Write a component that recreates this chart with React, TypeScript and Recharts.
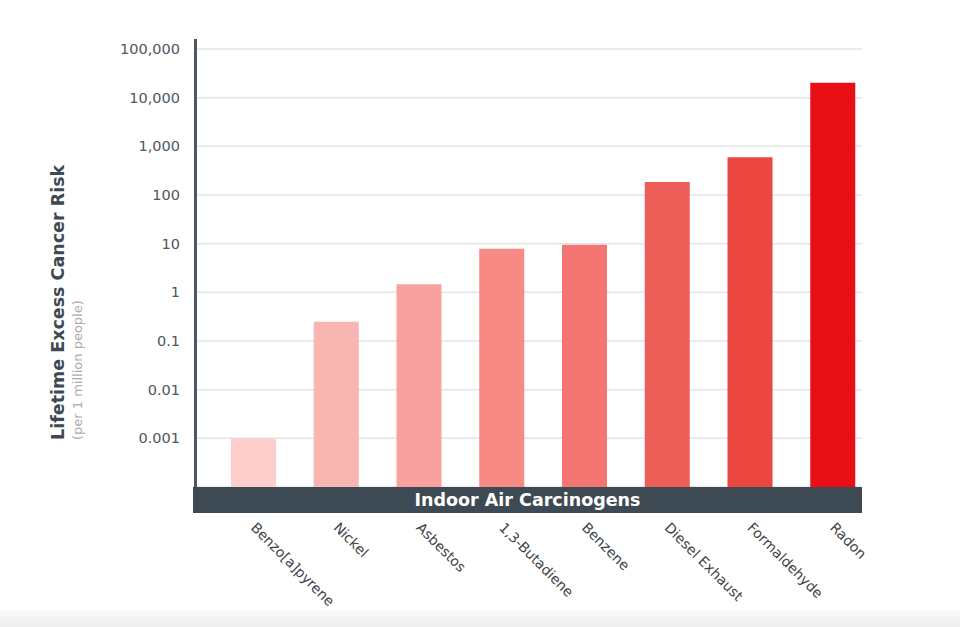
import React from 'react';
import { BarChart, Bar, XAxis, YAxis, CartesianGrid, Cell } from 'recharts';

const categories = ['Benzo[a]pyrene', 'Nickel', 'Asbestos', '1,3-Butadiene', 'Benzene', 'Diesel Exhaust', 'Formaldehyde', 'Radon'];
const riskPerMillion = [0.001, 0.25, 1.46, 7.9, 9.5, 185, 600, 20300];
const yTicks = [0.001, 0.01, 0.1, 1, 10, 100, 1000, 10000, 100000];
const COLORS = ['#FCCFCC', '#F9B5B2', '#F9A19F', '#F88A86', '#F47672', '#EE5E59', '#EC4641', '#E81016'];

const data = categories.map((name, i) => ({ name, value: riskPerMillion[i] }));

const FONT = '"DejaVu Sans", "Noto Sans", sans-serif';
const DARK = '#3E4A53';

const formatTick = (v: number) => v.toLocaleString('en-US', { maximumFractionDigits: 3 });

// vertical axis bar + rotated titles, drawn from the y axis box
const renderYDecor = (props: any) => {
    const { x, y, width, height } = props.viewBox;
    const right = x + width - 0.5;
    return (
        <g>
            <line x1={right} x2={right} y1={y - 10} y2={y + height + 26} stroke="#4D565E" strokeWidth={3} />
            <text x={58} y={440} transform="rotate(-90, 58, 440)" textAnchor="start" dominantBaseline="central"
                fontFamily={FONT} fontWeight="bold" fontSize={17.5} fill={DARK}>
                Lifetime Excess Cancer Risk
            </text>
            <text x={77} y={440} transform="rotate(-90, 77, 440)" textAnchor="start" dominantBaseline="central"
                fontFamily={FONT} fontSize={13} fill="#ABABAB">
                (per 1 million people)
            </text>
        </g>
    );
};

// dark band under the bars holding the x axis title
const renderXBand = (props: any) => {
    const { x, y, width } = props.viewBox;
    const left = x - 3;
    const right = x + width - 12;
    return (
        <g>
            <rect x={left} y={y} width={right - left} height={26} fill={DARK} />
            <text x={(left + right) / 2} y={y + 13} textAnchor="middle" dominantBaseline="central"
                fontFamily={FONT} fontWeight="bold" fontSize={17.5} fill="#FFFFFF">
                Indoor Air Carcinogens
            </text>
        </g>
    );
};

const XTick = ({ x, y, payload }: any) => (
    <text x={x} y={y} transform={`rotate(45, ${x}, ${y})`} textAnchor="start" dy="0.35em"
        fontFamily={FONT} fontSize={14} fill="#3F4449">
        {payload.value}
    </text>
);

const GridLine = (props: any) => (
    <line key={props.key} x1={props.x1} x2={props.x2 - 12} y1={props.y1} y2={props.y2} stroke="#E4E4E8" strokeWidth={1.5} />
);

export default function App() {
    return (
        <div style={{ position: 'absolute', left: 0, top: 0, width: 960, height: 627, background: '#FFFFFF', overflow: 'hidden' }}>
            <BarChart width={960} height={627} data={data} margin={{ top: 49, right: 86, bottom: 0, left: 0 }} barSize={45}>
                <CartesianGrid vertical={false} horizontal={GridLine} />
                <YAxis
                    type="number"
                    scale="log"
                    domain={[0.0001, 100000]}
                    ticks={yTicks}
                    tickFormatter={formatTick}
                    width={196}
                    axisLine={false}
                    tickLine={false}
                    tickMargin={10}
                    tick={{ fill: '#50565C', fontSize: 14.5, fontFamily: FONT }}
                    label={renderYDecor}
                />
                <XAxis
                    dataKey="name"
                    height={140}
                    axisLine={false}
                    tickLine={false}
                    tickSize={0}
                    tickMargin={38}
                    padding={{ left: 16, right: 0 }}
                    interval={0}
                    tick={<XTick />}
                    label={renderXBand}
                />
                <Bar dataKey="value" isAnimationActive={false}>
                    {data.map((entry, index) => (
                        <Cell key={`cell-${index}`} fill={COLORS[index % COLORS.length]} />
                    ))}
                </Bar>
            </BarChart>
            <div style={{ position: 'absolute', left: 0, top: 610, width: 960, height: 17, background: 'linear-gradient(#FAFAFA, #EEEEEE)' }} />
        </div>
    );
}
